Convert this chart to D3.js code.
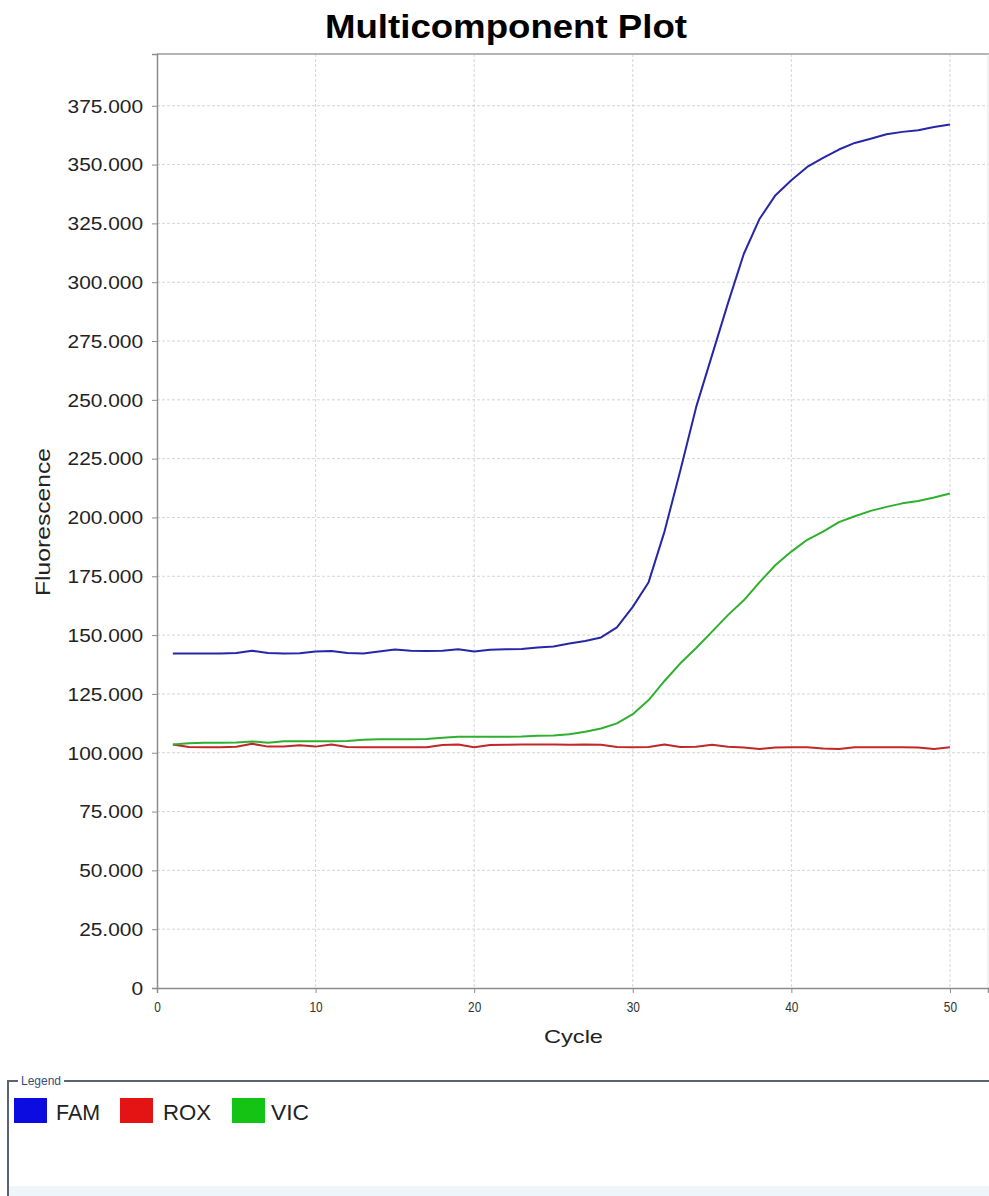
<!DOCTYPE html>
<html><head><meta charset="utf-8">
<script src="https://cdn.jsdelivr.net/npm/d3@7"></script>
<style>body{margin:0;background:#fff}svg{display:block}</style>
</head><body>
<script>
const cycles = [1,2,3,4,5,6,7,8,9,10,11,12,13,14,15,16,17,18,19,20,21,22,23,24,25,26,27,28,29,30,31,32,33,34,35,36,37,38,39,40,41,42,43,44,45,46,47,48,49,50];
const famValues = [142.2,142.2,142.2,142.2,142.4, 143.3,142.4,142.2,142.3,143.0, 143.2,142.4,142.2,143.0,143.9, 143.3,143.2,143.3,144.0,143.0, 143.8,144.0,144.1,144.7,145.2, 146.4,147.5,149.0,153.3,162.0, 172.5,194.0,220.0,247.0,269.0, 291.0,312.0,327.0,337.0,343.3, 349.0,352.8,356.4,359.2,361.0, 362.9,363.9,364.6,366.0,367.0];
const roxValues = [103.5,102.4,102.3,102.3,102.5, 103.8,102.6,102.6,103.2,102.6, 103.5,102.4,102.3,102.3,102.3, 102.3,102.3,103.3,103.5,102.3, 103.3,103.4,103.5,103.5,103.5, 103.4,103.5,103.4,102.4,102.3, 102.4,103.5,102.4,102.5,103.4, 102.5,102.2,101.6,102.2,102.3, 102.3,101.8,101.6,102.3,102.3, 102.3,102.3,102.2,101.6,102.3];
const vicValues = [103.5,104.0,104.2,104.2,104.3, 104.8,104.2,104.9,104.9,104.9, 104.9,105.0,105.5,105.7,105.7, 105.7,105.8,106.4,106.8,106.8, 106.8,106.8,106.9,107.2,107.3, 107.9,108.9,110.3,112.5,116.4, 122.4,130.5,138.0,144.5,151.5, 158.5,164.8,172.5,179.8,185.5, 190.5,194.0,198.0,200.5,202.8, 204.5,206.0,207.0,208.5,210.2];
const seriesNames = ["FAM","ROX","VIC"];
const xTicks = [0,10,20,30,40,50];
const yTicks = [0,25,50,75,100,125,150,175,200,225,250,275,300,325,350,375];
const titleText = "Multicomponent Plot";
const xTitle = "Cycle";
const yTitle = "Fluorescence";

const W = 989, H = 1196;
const plot = {left:157, right:988, top:54, bottom:988};
const lineColors = {FAM:"#2626a8", ROX:"#c02828", VIC:"#2eb02e"};
const swatchColors = {FAM:"#0c0ce0", ROX:"#e41414", VIC:"#14c414"};
const seriesData = {FAM:famValues, ROX:roxValues, VIC:vicValues};

const svg = d3.select("body").append("svg").attr("width",W).attr("height",H)
  .style("font-family","'Liberation Sans', Arial, sans-serif");

const x = d3.scaleLinear().domain([0,52.4]).range([plot.left, plot.right]);
const y = d3.scaleLinear().domain([0,397]).range([plot.bottom, plot.top]);

function stretch(sel, factor){
  sel.each(function(){
    const l = this.getComputedTextLength();
    d3.select(this).attr("textLength", l*factor).attr("lengthAdjust","spacingAndGlyphs");
  });
}

// title
svg.append("text").attr("x",506).attr("y",38).attr("text-anchor","middle")
  .attr("font-size",34).attr("font-weight","bold").attr("fill","#000")
  .attr("textLength",362).attr("lengthAdjust","spacingAndGlyphs").text(titleText);

// grid
const grid = svg.append("g");
grid.selectAll("line.h").data(yTicks.filter(d=>d>0)).enter().append("line")
  .attr("x1",plot.left).attr("x2",plot.right).attr("y1",d=>y(d)).attr("y2",d=>y(d))
  .attr("stroke","#d6d6d6").attr("stroke-width",1).attr("stroke-dasharray","3,2");
grid.selectAll("line.v").data(xTicks.filter(d=>d>0)).enter().append("line")
  .attr("y1",plot.top).attr("y2",plot.bottom).attr("x1",d=>x(d)).attr("x2",d=>x(d))
  .attr("stroke","#d6d6d6").attr("stroke-width",1).attr("stroke-dasharray","3,2");

// borders
svg.append("line").attr("x1",plot.left).attr("x2",W).attr("y1",plot.top).attr("y2",plot.top)
  .attr("stroke","#b4b4b4").attr("stroke-width",2);
svg.append("line").attr("x1",plot.right).attr("x2",plot.right).attr("y1",plot.top).attr("y2",plot.bottom)
  .attr("stroke","#e4e4e4").attr("stroke-width",1);

// axes
const yAxis = d3.axisLeft(y).tickValues(yTicks).tickSize(5).tickPadding(9)
  .tickFormat(d => d===0 ? "0" : d3.format(".3f")(d));
const gy = svg.append("g").attr("transform",`translate(${plot.left},0)`).call(yAxis);
gy.select(".domain").attr("stroke","#8c8c8c").attr("stroke-width",1.5);
gy.selectAll(".tick line").attr("stroke","#8c8c8c");
gy.selectAll(".tick text").attr("font-size",18).attr("fill","#222")
  .attr("font-family","'Liberation Sans', Arial, sans-serif").attr("dy","0.35em");
stretch(gy.selectAll(".tick text"), 1.16);

const xAxis = d3.axisBottom(x).tickValues(xTicks).tickSize(5).tickPadding(9);
const gx = svg.append("g").attr("transform",`translate(0,${plot.bottom})`).call(xAxis);
gx.select(".domain").attr("stroke","#8c8c8c").attr("stroke-width",1.5);
gx.selectAll(".tick line").attr("stroke","#8c8c8c");
gx.selectAll(".tick text").attr("font-size",14).attr("fill","#333")
  .attr("font-family","'Liberation Sans', Arial, sans-serif");
stretch(gx.selectAll(".tick text"), 0.85);

// axis titles
svg.append("text").attr("x",573.5).attr("y",1043).attr("text-anchor","middle")
  .attr("font-size",19).attr("fill","#222").attr("textLength",59)
  .attr("lengthAdjust","spacingAndGlyphs").text(xTitle);
svg.append("text").attr("transform","translate(50,522) rotate(-90)").attr("text-anchor","middle")
  .attr("font-size",20).attr("fill","#222").attr("textLength",148)
  .attr("lengthAdjust","spacingAndGlyphs").text(yTitle);

// lines
const line = d3.line().x((d,i)=>x(cycles[i])).y(d=>y(d));
const order = ["ROX","VIC","FAM"];
svg.append("g").selectAll("path").data(order).enter().append("path")
  .attr("d",k=>line(seriesData[k])).attr("fill","none")
  .attr("stroke",k=>lineColors[k]).attr("stroke-width",2).attr("stroke-linejoin","round");

// legend
const lg = svg.append("g");
lg.append("rect").attr("x",9).attr("y",1186).attr("width",W-9).attr("height",10).attr("fill","#eef6fc");
lg.append("line").attr("x1",8).attr("x2",18).attr("y1",1081).attr("y2",1081).attr("stroke","#5a6470").attr("stroke-width",2);
lg.append("line").attr("x1",8).attr("x2",8).attr("y1",1080).attr("y2",H).attr("stroke","#5a6470").attr("stroke-width",2);
const lt = lg.append("text").attr("x",21).attr("y",1085).attr("font-size",12).attr("fill","#34507e").text("Legend");
const ltEnd = 21 + lt.node().getComputedTextLength();
lg.append("line").attr("x1",ltEnd+3).attr("x2",W).attr("y1",1081).attr("y2",1081).attr("stroke","#5a6470").attr("stroke-width",2);

const swX = {FAM:14, ROX:120, VIC:232};
const txX = {FAM:56, ROX:163, VIC:271};
const txW = {FAM:44, ROX:48, VIC:38};
const items = lg.selectAll("g.item").data(seriesNames).enter().append("g");
items.append("rect").attr("x",k=>swX[k]).attr("y",1098).attr("width",33).attr("height",25)
  .attr("fill",k=>swatchColors[k]);
items.append("text").attr("x",k=>txX[k]).attr("y",1120).attr("font-size",22).attr("fill","#222")
  .attr("textLength",k=>txW[k]).attr("lengthAdjust","spacingAndGlyphs").text(k=>k);
</script>
</body></html>
